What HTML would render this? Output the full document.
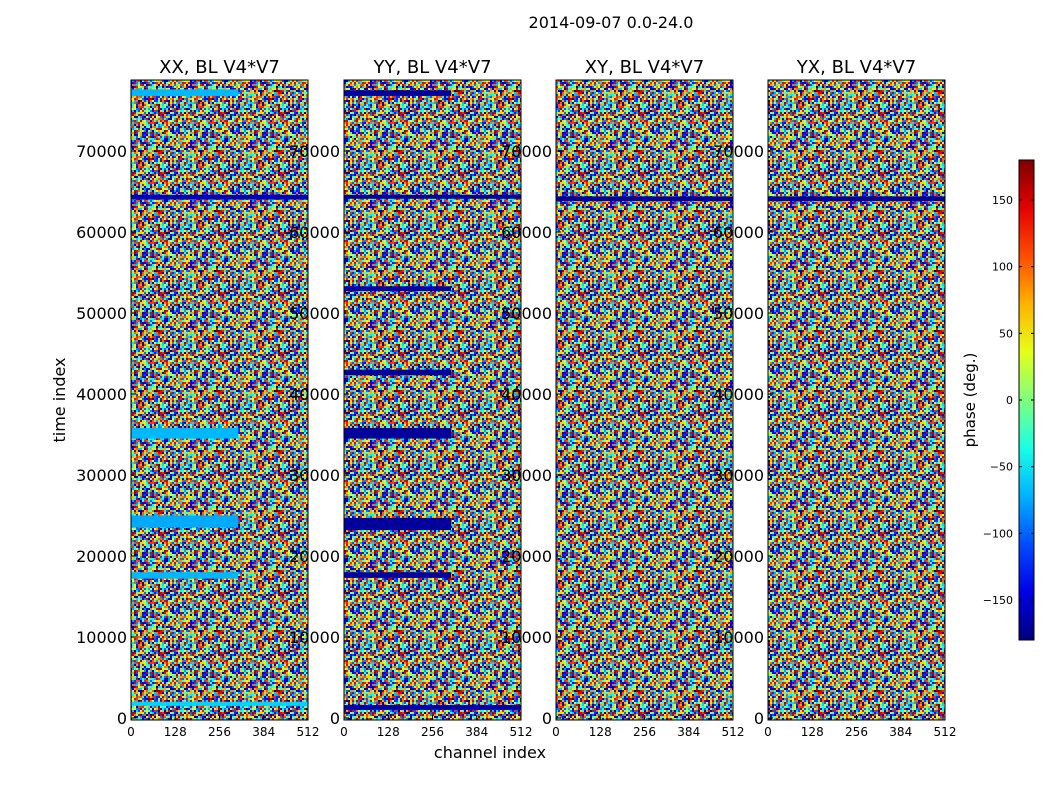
<!DOCTYPE html>
<html><head><meta charset="utf-8"><style>
body{margin:0;background:#fff;font-family:"Liberation Sans","DejaVu Sans",sans-serif}
svg text{font-family:"DejaVu Sans","Liberation Sans",sans-serif}
</style></head><body>
<svg id="c" width="1050" height="800" viewBox="0 0 1050 800">
<defs id="defs"></defs>
</svg>
<script>
// ---- data ----
const panelTitles = ["XX, BL V4*V7","YY, BL V4*V7","XY, BL V4*V7","YX, BL V4*V7"];
const yTicks = [0,10000,20000,30000,40000,50000,60000,70000];
const xTicks = [0,128,256,384,512];
const cbTicks = [-150,-100,-50,0,50,100,150];
// distinctive horizontal bands: [panel, tStart, tEnd, chStart, chEnd, phase]
const bandPanel = [0,0,0,0,0,0,1,1,1,1,1,1,1,1,2,3];
const bandStart = [34500,23500,17200,64000,76800,1500,34500,23200,17300,42300,52700,64100,1000,76800,63800,63800];
const bandEnd   = [35800,25000,18000,64600,77600,2000,35800,24700,18000,43000,53300,64600,1600,77500,64400,64400];
const bandCh0   = [0,0,0,0,0,0,0,0,0,0,0,0,0,0,0,0];
const bandCh1   = [310,310,310,512,310,512,310,310,310,310,310,512,512,310,512,512];
const bandPhase = [-70,-75,-70,-160,-70,-60,-170,-170,-170,-170,-165,-170,-165,-170,-170,-170];
// ---- layout ----
const panelX=[131,344,556,768], PW=177, PT=80, PB=720;
const ys=v=>PB-2-(v/70000)*567;
const xs=(p,v)=>panelX[p]+v/512*PW;
function jet(t){t=Math.max(0,Math.min(1,t));
 const r=Math.max(0,Math.min(1,1.5-Math.abs(4*t-3))),g=Math.max(0,Math.min(1,1.5-Math.abs(4*t-2))),b=Math.max(0,Math.min(1,1.5-Math.abs(4*t-1)));
 return `rgb(${r*255|0},${g*255|0},${b*255|0})`;}
const pc=ph=>jet((ph+180)/360);
const svg=document.getElementById('c'),NS='http://www.w3.org/2000/svg';
function el(t,a,par){const e=document.createElementNS(NS,t);for(const k in a)e.setAttribute(k,a[k]);(par||svg).appendChild(e);return e;}
// decorative noise texture tile (deterministic)
const defs=document.getElementById('defs');
const pat=el('pattern',{id:'noise',width:60,height:60,patternUnits:'userSpaceOnUse'},defs);
let s=12345;const h=()=>{s=(s*1103515245+12345)&0x7fffffff;return s/0x7fffffff;};
for(let i=0;i<30;i++)for(let j=0;j<30;j++){el('rect',{x:i*2,y:j*2,width:2,height:2,fill:jet(h())},pat);}
// title
const t0=el('text',{x:611,y:28,'font-size':16,'text-anchor':'middle'});t0.textContent='2014-09-07 0.0-24.0';

for(let p=0;p<4;p++){
 const g=el('g',{});
 const bg=el('rect',{x:panelX[p],y:PT,width:PW,height:PB-PT,fill:'url(#noise)'},g);
 
 for(let i=0;i<bandPanel.length;i++){if(bandPanel[i]!==p)continue;
  const r=el('rect',{x:xs(p,bandCh0[i]),y:ys(bandEnd[i]),width:xs(p,bandCh1[i])-xs(p,bandCh0[i]),height:ys(bandStart[i])-ys(bandEnd[i]),fill:pc(bandPhase[i])},g);
  }
 el('rect',{x:panelX[p],y:PT,width:PW,height:PB-PT,fill:'none',stroke:'#000','stroke-width':1},g);
 const tt=el('text',{x:panelX[p]+PW/2,y:73,'font-size':18,'text-anchor':'middle'},g);tt.textContent=panelTitles[p];
 
 for(const v of yTicks){const y=ys(v);
  el('line',{x1:panelX[p],x2:panelX[p]+5,y1:y,y2:y,stroke:'#000'},g);
  const l=el('text',{x:panelX[p]-4,y:y+6,'font-size':16,'text-anchor':'end'},g);l.textContent=v;
  }
 for(const v of xTicks){const x=xs(p,v);
  el('line',{x1:x,x2:x,y1:PB,y2:PB-5,stroke:'#000'},g);
  const l=el('text',{x:x,y:736,'font-size':12,'text-anchor':'middle'},g);l.textContent=v;
  }
}
const xl=el('text',{x:490,y:758,'font-size':16,'text-anchor':'middle'});xl.textContent='channel index';

const yl=el('text',{x:0,y:0,'font-size':16,'text-anchor':'middle',transform:'translate(65,400) rotate(-90)'});yl.textContent='time index';

// colorbar
const cb=el('g',{});
const lg=el('linearGradient',{id:'jetg',x1:0,y1:1,x2:0,y2:0},defs);
for(let i=0;i<=10;i++)el('stop',{offset:i/10,'stop-color':jet(i/10)},lg);
el('rect',{x:1019,y:160,width:15,height:480,fill:'url(#jetg)',stroke:'#000'},cb);
const cy=v=>400-v*480/360;
for(const v of cbTicks){const y=cy(v);
 el('line',{x1:1019,x2:1022,y1:y,y2:y,stroke:'#000'},cb);el('line',{x1:1031,x2:1034,y1:y,y2:y,stroke:'#000'},cb);
 const l=el('text',{x:1013,y:y+4,'font-size':11,'text-anchor':'end'},cb);l.textContent=String(v).replace('-','\u2212');
 }
const cl=el('text',{x:0,y:0,'font-size':15,'text-anchor':'middle',transform:'translate(975,400) rotate(-90)'});cl.textContent='phase (deg.)';

</script>
</body></html>
